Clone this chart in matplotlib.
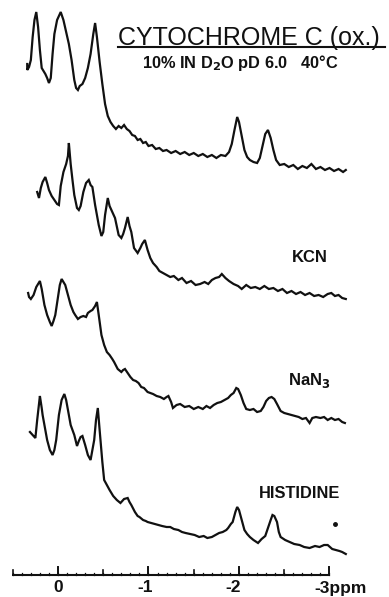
"""
Stacked 1H NMR traces of oxidised cytochrome c (high-field region),
native protein and with KCN, NaN3 and histidine added.
"""

import numpy as np
import matplotlib
matplotlib.use("Agg")
import matplotlib.pyplot as plt

# ── trace data: chemical shift (ppm) and intensity above each trace's baseline ──

NATIVE_PPM = [0.34, 0.34, 0.32, 0.30, 0.28, 0.26, 0.24, 0.22, 0.20, 0.18, 0.16, 0.14,
              0.12, 0.10, 0.08, 0.06, 0.04, 0.01, -0.03, -0.06, -0.09, -0.12, -0.15,
              -0.18, -0.20, -0.22, -0.24, -0.27, -0.30, -0.33, -0.36, -0.39, -0.41,
              -0.43, -0.46, -0.49, -0.52, -0.55, -0.58, -0.61, -0.64, -0.67, -0.70,
              -0.73, -0.76, -0.79, -0.82, -0.85, -0.88, -0.91, -0.94, -0.97, -1.00,
              -1.04, -1.08, -1.12, -1.16, -1.20, -1.25, -1.30, -1.35, -1.40, -1.45,
              -1.50, -1.55, -1.60, -1.65, -1.70, -1.75, -1.80, -1.85, -1.89, -1.92,
              -1.95, -1.98, -2.00, -2.03, -2.06, -2.09, -2.12, -2.16, -2.20, -2.23,
              -2.26, -2.29, -2.32, -2.35, -2.38, -2.41, -2.45, -2.50, -2.55, -2.60,
              -2.65, -2.70, -2.75, -2.80, -2.85, -2.90, -2.95, -3.00, -3.05, -3.10,
              -3.15, -3.18]
NATIVE_INT = [108, 102, 105, 112, 135, 152, 160, 145, 122, 104, 101, 98,
              94, 89, 94, 118, 138, 152, 160, 152, 140, 128, 112,
              92, 84, 82, 86, 88, 94, 104, 118, 138, 149,
              135, 110, 88, 68, 56, 50, 46, 43, 46, 44,
              47, 43, 41, 37, 36, 32, 33, 29, 30, 26,
              27, 23, 24, 21, 22, 19, 21, 18, 20, 17,
              19, 16, 18, 15, 17, 14, 17, 16, 20, 28,
              42, 55, 50, 36, 22, 15, 12, 10, 9, 14,
              26, 38, 42, 34, 22, 12, 7, 8, 5, 7,
              3, 6, 4, 8, 3, 5, 2, 4, 1, 3,
              0, 2]

KCN_PPM = [0.23, 0.21, 0.19, 0.17, 0.14, 0.12, 0.10, 0.07, 0.04, 0.01, -0.01, -0.03,
           -0.06, -0.09, -0.11, -0.12, -0.14, -0.16, -0.18, -0.21, -0.23, -0.25,
           -0.28, -0.31, -0.34, -0.36, -0.38, -0.41, -0.45, -0.48, -0.50, -0.52,
           -0.55, -0.57, -0.59, -0.63, -0.67, -0.70, -0.72, -0.74, -0.77, -0.79,
           -0.81, -0.84, -0.88, -0.91, -0.93, -0.96, -0.99, -1.02, -1.05, -1.09,
           -1.12, -1.16, -1.20, -1.24, -1.28, -1.33, -1.37, -1.42, -1.47, -1.52,
           -1.57, -1.62, -1.66, -1.70, -1.74, -1.78, -1.81, -1.85, -1.89, -1.94,
           -1.99, -2.03, -2.08, -2.13, -2.18, -2.23, -2.28, -2.33, -2.38, -2.43,
           -2.48, -2.53, -2.58, -2.63, -2.68, -2.73, -2.78, -2.83, -2.88, -2.93,
           -2.98, -3.02, -3.06, -3.10, -3.14, -3.18]
KCN_INT = [106, 100, 110, 116, 121, 115, 108, 102, 98, 94, 93, 112,
           126, 134, 142, 155, 134, 118, 103, 90, 88, 92,
           106, 115, 118, 113, 111, 93, 73, 62, 66, 83,
           100, 92, 88, 80, 63, 60, 64, 70, 81, 72,
           66, 50, 45, 50, 54, 58, 48, 40, 35, 31,
           27, 25, 23, 21, 22, 18, 20, 15, 17, 13,
           14, 16, 14, 18, 20, 21, 24, 20, 17, 14,
           12, 9, 13, 10, 11, 9, 12, 9, 10, 7,
           9, 5, 7, 4, 6, 3, 5, 2, 3, 1,
           4, 5, 2, 3, 0, -1]

NAN3_PPM = [0.33, 0.32, 0.30, 0.27, 0.24, 0.20, 0.18, 0.15, 0.12, 0.09, 0.07, 0.05,
            0.03, 0.00, -0.02, -0.04, -0.06, -0.08, -0.11, -0.14, -0.17, -0.19,
            -0.22, -0.25, -0.28, -0.31, -0.33, -0.36, -0.38, -0.41, -0.43, -0.45,
            -0.48, -0.51, -0.54, -0.57, -0.60, -0.62, -0.66, -0.70, -0.72, -0.74,
            -0.77, -0.80, -0.83, -0.86, -0.89, -0.92, -0.95, -0.99, -1.02, -1.05,
            -1.09, -1.13, -1.17, -1.20, -1.22, -1.25, -1.27, -1.31, -1.35, -1.40,
            -1.45, -1.50, -1.55, -1.60, -1.64, -1.68, -1.72, -1.76, -1.80, -1.84,
            -1.88, -1.91, -1.94, -1.97, -1.99, -2.02, -2.05, -2.08, -2.12, -2.16,
            -2.20, -2.24, -2.27, -2.30, -2.33, -2.36, -2.39, -2.42, -2.46, -2.50,
            -2.54, -2.58, -2.62, -2.66, -2.70, -2.74, -2.78, -2.81, -2.85, -2.90,
            -2.94, -2.98, -3.02, -3.06, -3.10, -3.14, -3.17]
NAN3_INT = [130, 126, 124, 128, 136, 142, 134, 118, 108, 101, 97, 102,
            108, 126, 138, 144, 141, 138, 128, 118, 111, 108,
            104, 106, 107, 106, 110, 112, 113, 117, 121, 108,
            88, 78, 71, 68, 64, 61, 54, 51, 53, 54,
            50, 46, 43, 42, 40, 36, 35, 31, 30, 29,
            27, 26, 24, 26, 27, 21, 15, 18, 19, 16,
            17, 14, 16, 14, 17, 15, 18, 20, 21, 23,
            25, 28, 30, 35, 34, 28, 20, 14, 13, 14,
            11, 12, 16, 22, 25, 26, 24, 19, 12, 10,
            9, 8, 7, 6, 4, 5, 0, 5, 6, 5,
            6, 3, 5, 3, 4, 1, 0]

HIS_PPM = [0.31, 0.29, 0.27, 0.25, 0.23, 0.21, 0.20, 0.18, 0.17, 0.14, 0.12, 0.09,
           0.06, 0.04, 0.02, -0.01, -0.04, -0.07, -0.09, -0.11, -0.14, -0.16,
           -0.18, -0.21, -0.23, -0.25, -0.27, -0.30, -0.33, -0.36, -0.38, -0.40,
           -0.42, -0.44, -0.46, -0.49, -0.51, -0.54, -0.57, -0.61, -0.65, -0.69,
           -0.71, -0.73, -0.77, -0.79, -0.81, -0.85, -0.88, -0.90, -0.94, -0.97,
           -0.99, -1.03, -1.07, -1.11, -1.15, -1.20, -1.24, -1.28, -1.33, -1.37,
           -1.41, -1.46, -1.51, -1.56, -1.61, -1.65, -1.70, -1.74, -1.78, -1.82,
           -1.86, -1.88, -1.91, -1.93, -1.96, -1.98, -2.00, -2.03, -2.06, -2.09,
           -2.12, -2.16, -2.21, -2.25, -2.29, -2.32, -2.35, -2.37, -2.39, -2.42,
           -2.44, -2.46, -2.51, -2.56, -2.61, -2.67, -2.72, -2.78, -2.84, -2.89,
           -2.94, -2.98, -3.03, -3.07, -3.11, -3.14, -3.18]
HIS_INT = [122, 120, 118, 116, 134, 150, 158, 146, 139, 124, 114, 104,
           99, 104, 114, 139, 154, 160, 154, 144, 129, 124,
           119, 108, 113, 117, 118, 109, 99, 94, 104, 114,
           134, 146, 124, 92, 74, 69, 64, 58, 54, 51,
           53, 55, 56, 52, 49, 42, 38, 37, 34, 33,
           32, 31, 30, 29, 28, 27, 27, 25, 24, 22,
           21, 20, 19, 17, 18, 16, 17, 19, 21, 22,
           24, 26, 30, 32, 42, 47, 44, 34, 24, 20,
           17, 14, 11, 15, 18, 26, 34, 39, 38, 32,
           22, 17, 14, 12, 10, 9, 7, 6, 8, 7,
           9, 9, 5, 4, 3, 2, 0]

# vertical position of each trace's baseline (figure-pixel units, measured upward)
TRACE_OFFSETS = [425, 299, 174, 43]

TRACE_LABELS = ["", "KCN", "NaN$_3$", "HISTIDINE"]

AXIS_MAJOR = [0, -1, -2, -3]
AXIS_LABELS = ["0", "-1", "-2", "-3ppm"]

INK = "#111111"
FONT = ["Liberation Sans", "DejaVu Sans"]


def draw_axis(ax, y0):
    """ppm scale along the bottom: tenths as dots, halves short, integers tall."""
    ax.plot([0.51, -3.0], [y0, y0], color=INK, lw=1.5, solid_capstyle="butt")
    for t in np.arange(0.5, -3.01, -0.1):
        ax.plot([t, t], [y0, y0 + 2], color=INK, lw=0.9)
    for t in [0.5, -0.5, -1.5, -2.5]:
        ax.plot([t, t], [y0, y0 + 5], color=INK, lw=1.2)
    for t in AXIS_MAJOR:
        ax.plot([t, t], [y0, y0 + 8], color=INK, lw=1.4)

    label_font = dict(family=FONT, fontweight="bold",
                      fontsize=12.5, color=INK, va="center")
    ax.text(0.0, y0 - 13, AXIS_LABELS[0], ha="center", **label_font)
    ax.text(-0.96, y0 - 13, AXIS_LABELS[1], ha="center", **label_font)
    ax.text(-1.93, y0 - 13, AXIS_LABELS[2], ha="center", **label_font)
    ax.text(-2.83, y0 - 13, AXIS_LABELS[3], ha="left", **label_font)


def main():
    plt.rcParams["mathtext.default"] = "bf"
    fig = plt.figure(figsize=(3.89, 5.97), dpi=100)
    ax = fig.add_axes([0, 0, 1, 1])
    # 90.5 px per ppm, 0 ppm sits 58 px from the left edge
    ax.set_xlim(58 / 90.5, (58 - 389) / 90.5)
    ax.set_ylim(0, 597)
    ax.axis("off")

    traces = [(NATIVE_PPM, NATIVE_INT), (KCN_PPM, KCN_INT),
              (NAN3_PPM, NAN3_INT), (HIS_PPM, HIS_INT)]
    for (ppm, inten), off in zip(traces, TRACE_OFFSETS):
        ppm = np.asarray(ppm)
        inten = np.asarray(inten)
        assert len(ppm) == len(inten)
        ax.plot(ppm, inten + off, color=INK, lw=1.6, solid_joinstyle="miter")

    lbl = dict(family=FONT, fontweight="bold", color=INK, ha="center", va="center")
    ax.text(-2.785, 340, TRACE_LABELS[1], fontsize=12, **lbl)
    ax.text(-2.78, 216, TRACE_LABELS[2], fontsize=12, **lbl)
    ax.text(-2.67, 103, TRACE_LABELS[3], fontsize=11.8, **lbl)
    ax.plot([-3.06], [73], "o", color=INK, ms=2.5)

    # title block
    ax.text(-0.663, 552, "CYTOCHROME C (ox.)", fontsize=18, family=FONT,
            color=INK, ha="left", va="baseline")
    ax.plot([-0.663, -3.61], [550, 550], color=INK, lw=1.5)
    ax.text(-0.928, 529, "10% IN D$_2$O pD 6.0   40°C", fontsize=11.8,
            family=FONT, fontweight="bold", color=INK, ha="left", va="baseline")

    draw_axis(ax, 22)

    fig.savefig("out.png", dpi=100)
    plt.close(fig)


if __name__ == "__main__":
    main()
